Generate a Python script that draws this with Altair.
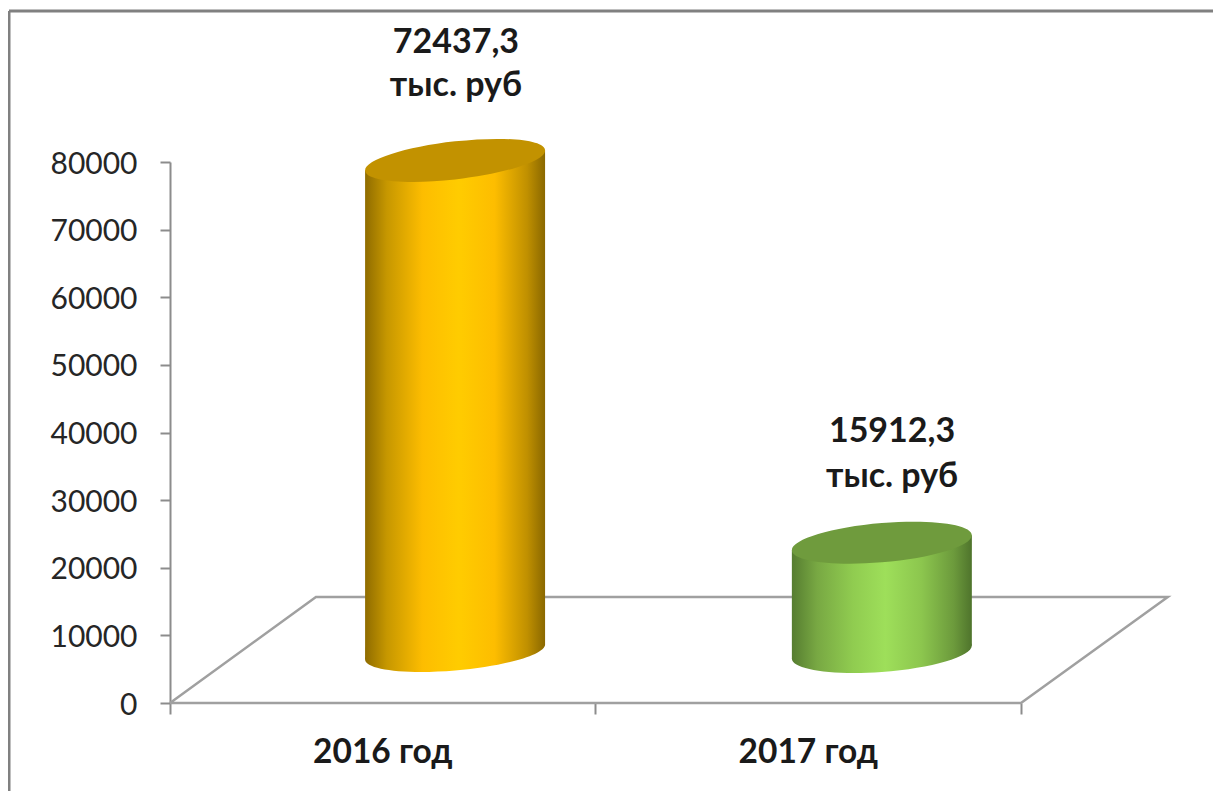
import math
import altair as alt
import pandas as pd

years = ["2016 год", "2017 год"]
values = [72437.3, 15912.3]
value_text = ["72437,3", "15912,3"]
unit_text = "тыс. руб"
y_ticks = [0, 10000, 20000, 30000, 40000, 50000, 60000, 70000, 80000]
cat_pos = [0.5, 1.5]
depth_value = 7800
depth_x = [0.17, 0.173]
half_width = 0.2115
floor_x = [0, 0.343, 2.345, 2, 0]
floor_y = [0, 15675, 15675, 0, 0]
label_x = [0.672, 1.697]
label_gap_1 = [17400, 16400]
label_gap_2 = [11000, 9750]
top_tilt = [10.0, 7.5]
top_hh = [21.5, 21.0]
base_tilt = [7.5, 6.5]
base_hh = [20.0, 21.0]
orange_stops = [(0, "#8f6c00"), (0.12, "#c69700"), (0.32, "#fdbd00"), (0.52, "#ffcc00"), (0.72, "#fdbd00"), (0.9, "#c09000"), (1, "#8a6800")]
green_stops = [(0, "#567d30"), (0.14, "#78a843"), (0.34, "#90cc50"), (0.52, "#9edf5a"), (0.72, "#8cc64e"), (0.9, "#6c9a3c"), (1, "#4f742c")]
top_colors = ["#c29200", "#6f9b3d"]
palettes = [orange_stops, green_stops]

PX_Y = 541 / 80000
GREY = "#8c8c8c"


def ellipse_path(half_h, tilt, half_w=90.0):
    c = tilt * half_w
    xx, yy = half_w ** 2, half_h ** 2
    mean, diff = (xx + yy) / 2, (xx - yy) / 2
    r = math.hypot(diff, c)
    a, b = math.sqrt(mean + r) / half_w, math.sqrt(max(mean - r, 1)) / half_w
    rot = -math.degrees(0.5 * math.atan2(2 * c, xx - yy))
    t = tilt / half_w
    return f"M -1 {t:.4f} A {a:.4f} {b:.4f} {rot:.3f} 1 1 1 {-t:.4f} A {a:.4f} {b:.4f} {rot:.3f} 1 1 -1 {t:.4f} Z"


def grad(stops):
    return alt.Gradient(
        gradient="linear", x1=0, x2=1, y1=0, y2=0,
        stops=[alt.GradientStop(offset=o, color=c) for o, c in stops],
    )


sx = alt.Scale(domain=[0, 2.3455], nice=False, zero=False)
sy = alt.Scale(domain=[0, 80000], nice=False, zero=False)
x_axis = alt.Axis(
    values=[0, 1, 2], labels=False, domain=False, grid=False, tickSize=11,
    tickColor=GREY, tickWidth=2, title=None)
y_axis = alt.Axis(
    values=y_ticks, grid=False, tickSize=10, tickColor=GREY, tickWidth=2,
    domainColor=GREY, domainWidth=2, labelFont="Lato", labelFontSize=30,
    labelColor="#262626", labelPadding=23, labelOffset=2, format="d", title=None)
X = lambda f="x": alt.X(f"{f}:Q", scale=sx, axis=x_axis)
Y = lambda f="y": alt.Y(f"{f}:Q", scale=sy, axis=y_axis)

frame = [
    alt.Chart(pd.DataFrame({"a": [0]})).mark_rule(color="#808080", strokeWidth=3).encode(
        x=alt.value(-161), x2=alt.value(1060), y=alt.value(-151)),
    alt.Chart(pd.DataFrame({"a": [0]})).mark_rule(color="#808080", strokeWidth=3).encode(
        x=alt.value(-161), y=alt.value(-151), y2=alt.value(640)),
]

floor = alt.Chart(pd.DataFrame({"x": floor_x, "y": floor_y, "o": range(5)})).mark_line(
    color="#a0a0a0", strokeWidth=2.5).encode(x=X(), y=Y(), order="o:Q")

layers = [*frame, floor]
for i, v in enumerate(values):
    cx = cat_pos[i] + depth_x[i]
    top = v + depth_value
    base = depth_value - 250
    ttilt, btilt = top_tilt[i], base_tilt[i]
    pt = alt.Chart(pd.DataFrame({"x": [cx], "y": [base]})).mark_point(
        shape=ellipse_path(base_hh[i], btilt), size=32400, filled=True, opacity=1,
        fill=grad(palettes[i]), strokeWidth=0).encode(x=X(), y=Y())
    body_df = pd.DataFrame({
        "x": [cx - half_width, cx + half_width],
        "y": [top - ttilt / PX_Y, top + ttilt / PX_Y],
        "y2": [base - btilt / PX_Y, base + btilt / PX_Y],
    })
    body = alt.Chart(body_df).mark_area(fill=grad(palettes[i]), strokeWidth=0, opacity=1).encode(
        x=X(), y=Y(), y2="y2:Q")
    cap = alt.Chart(pd.DataFrame({"x": [cx], "y": [top]})).mark_point(
        shape=ellipse_path(top_hh[i], ttilt), size=32400, filled=True, opacity=1,
        fill=top_colors[i], strokeWidth=0).encode(x=X(), y=Y())
    layers += [pt, body, cap]

    lbl = pd.DataFrame({"x": [label_x[i]] * 2, "y": [top + label_gap_1[i], top + label_gap_2[i]], "t": [value_text[i], unit_text]})
    layers.append(alt.Chart(lbl).mark_text(
        font="Lato", fontWeight="bold", fontSize=34, color="#1a1a1a", align="center", baseline="middle"
    ).encode(x=X(), y=Y(), text="t:N"))

cat = pd.DataFrame({"x": cat_pos, "y": [-7400, -7400], "t": years})
layers.append(alt.Chart(cat).mark_text(
    font="Lato", fontWeight="bold", fontSize=33.5, color="#1a1a1a", align="center", baseline="middle"
).encode(x=X(), y=Y(), text="t:N"))

chart = alt.layer(*layers).properties(
    width=998, height=541,
    autosize=alt.AutoSizeParams(type="none"),
    padding={"left": 162, "top": 154, "right": 45, "bottom": 88},
    background="white",
).configure_view(stroke=None)

chart.save("out.html", embed_options={"renderer": "svg", "actions": False})
